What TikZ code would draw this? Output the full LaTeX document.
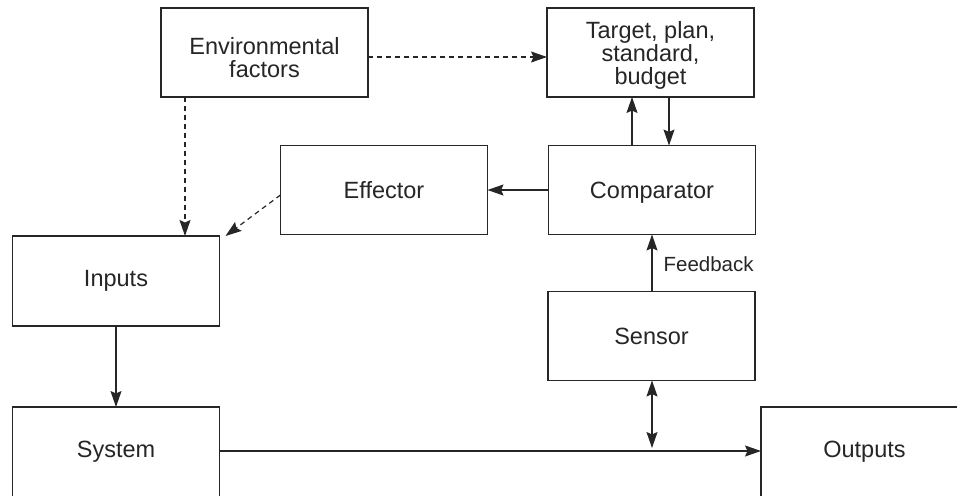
\documentclass[tikz,border=0pt]{standalone}
\usepackage{fontspec}
\setmainfont{Liberation Sans}
\usetikzlibrary{arrows.meta,calc}
\definecolor{ink}{HTML}{262626}
\tikzset{
  tip/.tip={Stealth[length=16pt,width=11pt,inset=2.5pt]},
  txt/.style={text=ink, inner sep=0pt, align=center, font=\fontsize{23.5}{23}\selectfont},
  blk/.style={draw=ink, line width=1.2pt, txt, minimum width=207pt, minimum height=89pt,
    outer sep=0pt},
  conn/.style={draw=ink, line width=1.2pt, -tip},
  dconn/.style={conn, dash pattern=on 5pt off 4pt},
  lbl/.style={text=ink, font=\fontsize{20.5}{24}\selectfont, inner sep=0pt}
}
\begin{document}
\begin{tikzpicture}[x=1pt,y=-1pt]
\clip (0,0) rectangle (957,495);
\fill[white] (0,0) rectangle (957,495);
\node[blk, label={[txt, yshift=-5pt]center:Environmental\\factors}] (env) at (264.5,52.5) {};
\node[blk, label={[txt, yshift=-2.5pt]center:Target, plan,\\standard,\\budget}] (target) at (650.5,52.5) {};
\node[blk] (effector) at (384,190) {Effector};
\node[blk, label={[txt, yshift=-3pt]center:Comparator}] (comp) at (652,190) {};
\node[blk, minimum height=90pt] (inputs) at (116,281) {Inputs};
\node[blk] (sensor) at (651.5,336) {Sensor};
\node[blk, minimum height=90pt] (system) at (116,452) {System};
\node[blk, minimum height=90pt] (outputs) at (864.5,452) {Outputs};
\coordinate (xa) at (185,0);
\coordinate (xup) at (632,0);
\coordinate (xdn) at (669,0);
\coordinate (ya) at (0,57);
\coordinate (yl) at (0,451);
\coordinate (js) at (652,451);
% dashed influences
\draw[dconn] (env.east |- ya) -- (target.west |- ya);
\draw[dconn] (env.south -| xa) -- (inputs.north -| xa);
\draw[dconn] ([yshift=-5pt]effector.west) -- ([xshift=6pt]inputs.north east);
% control loop
\draw[conn] (comp.west) -- (effector.east);
\draw[conn] (comp.north -| xup) -- (target.south -| xup);
\draw[conn] (target.south -| xdn) -- (comp.north -| xdn);
\draw[conn] (sensor.north -| comp.south) -- (comp.south)
  node[lbl, pos=0.48, anchor=west, xshift=11pt] (fb) {Feedback};
\draw[conn] (inputs.south) -- (system.north);
\draw[conn] (system.east |- yl) -- (outputs.west |- yl);
\draw[draw=ink, line width=1.2pt, tip-tip]
  (sensor.south -| js) -- ([yshift=3pt]js);
\end{tikzpicture}
\end{document}
